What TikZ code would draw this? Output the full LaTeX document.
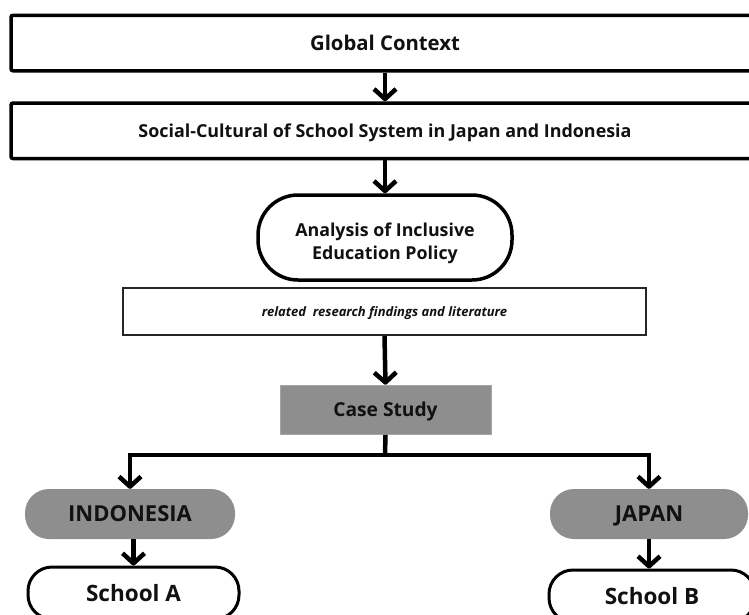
\documentclass[tikz,border=0pt]{standalone}
\usepackage{fontspec}
\setmainfont{Open Sans}
\usetikzlibrary{arrows.meta,positioning}
\definecolor{boxgray}{HTML}{8E8E8E}
\definecolor{ink}{HTML}{111111}
\tikzset{
  capc/.style={text height=#1, text depth=0pt},
  wide/.style={draw=black, line width=3.5pt, rounded corners=2pt, fill=white, inner sep=0pt,
    text=ink},
  pill/.style={draw=black, line width=3.5pt, rounded corners=40pt, fill=white, inner sep=0pt,
    text=ink, font=\bfseries\fontsize{17.8}{23}\selectfont},
  thinbox/.style={draw=black!85, line width=2pt, fill=white, inner sep=0pt,
    text=ink, font=\bfseries\itshape\fontsize{13}{15}\selectfont, capc=9.3pt},
  graybox/.style={fill=boxgray, draw=boxgray!80, line width=0.6pt, inner sep=0pt,
    text=ink, font=\bfseries\fontsize{19.2}{22}\selectfont, capc=13.7pt},
  graypill/.style={fill=boxgray, inner sep=0pt, rounded corners=24pt,
    text=ink, font=\bfseries\fontsize{22}{25}\selectfont, capc=15.7pt},
  schoolpill/.style={draw=black, line width=3pt, fill=white, rounded corners=24pt, inner sep=0pt,
    text=ink, font=\bfseries\fontsize{22.5}{25}\selectfont, capc=16.1pt},
  conn/.style={line width=4.5pt, draw=black, line join=miter},
  arr/.style={conn, -{Straight Barb[length=10pt,width=22pt,line join=round]}}
}
\begin{document}
\begin{tikzpicture}[x=1pt,y=-1pt]
\clip (0,0) rectangle (749,614);
\fill[white] (0,0) rectangle (749,614);
\node[wide, minimum width=748pt, minimum height=55.5pt, font=\bfseries\fontsize{20.3}{24}\selectfont, capc=14.5pt] (gc) at (385,43) {Global Context};
\node[wide, minimum width=748pt, minimum height=55.5pt, font=\bfseries\fontsize{17.9}{21}\selectfont, capc=12.8pt] (sc) at (385,130.75) {Social-Cultural of School System in Japan and Indonesia};
\node[pill, minimum width=254pt, minimum height=85pt] (an) at (385,237.5) {\raisebox{-10.5pt}[0pt][0pt]{\begin{tabular}{@{}c@{}}Analysis of Inclusive\\Education Policy\end{tabular}}};
\node[thinbox, minimum width=523pt, minimum height=47pt] (rel) at (384.5,311.5) {related\ \ research findings and literature};
\node[graybox, minimum width=211pt, minimum height=49.5pt] (cs) at (385.5,409.75) {Case Study};
\node[graypill, minimum width=210pt, minimum height=50pt] (ind) at (130,514) {INDONESIA};
\node[graypill, minimum width=198pt, minimum height=50pt] (jp) at (649,514) {JAPAN};
\node[schoolpill, minimum width=211pt, minimum height=52pt] (sa) at (133.5,593) {School A};
\node[schoolpill, minimum width=206pt, minimum height=52pt] (sb) at (652,596) {School B};
\coordinate (j) at (385,455);
\draw[arr] (gc.south) -- (sc.north);
\draw[arr] (sc.south) -- (an.north);
\draw[arr] (rel.south) -- (cs.north);
\draw[conn] (cs.south) -- (j);
\draw[arr] (j) -| (ind.north);
\draw[arr] (j) -| (jp.north);
\draw[arr] (sa.north |- ind.south) -- (sa.north);
\draw[arr] (jp.south) -- (jp.south |- sb.north);
\end{tikzpicture}
\end{document}
